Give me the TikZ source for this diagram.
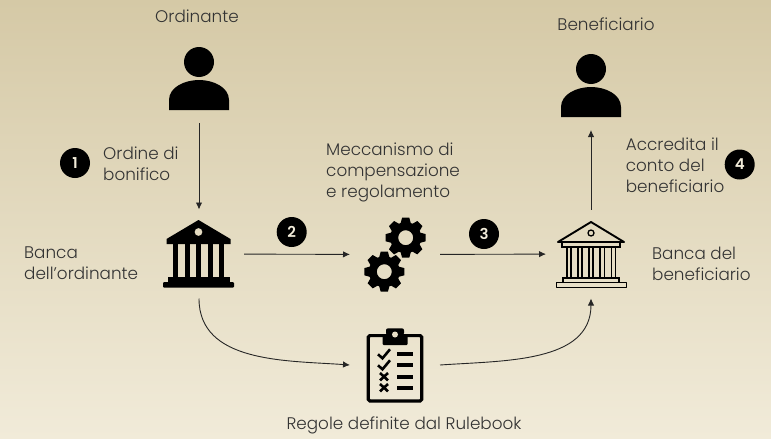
\documentclass[tikz,border=0pt]{standalone}
\usepackage{fontspec}
\setmainfont{Poppins Light}[BoldFont=Poppins SemiBold]
\usetikzlibrary{arrows.meta}
\definecolor{bgtop}{HTML}{D5C9A6}
\definecolor{bgbottom}{HTML}{F1EBD9}
\definecolor{labelcol}{HTML}{333333}
\tikzset{
	lbl/.style={align=left, anchor=west, inner sep=0pt, text=labelcol, font=\fontsize{16.8}{21}\selectfont},
	lblc/.style={lbl, align=center, anchor=center},
	num/.style={circle, fill=black, inner sep=0pt, minimum size=30pt, text=bgbottom, font=\fontsize{15}{15}\selectfont\bfseries},
	iconbox/.style={inner sep=0pt, outer sep=0pt},
	flow/.style={-{Latex[length=7pt,width=6.5pt]}, line width=0.9pt, draw=black!85},
	person/.pic={
		\fill (0, -16) circle (15pt);
		\fill (-30, 32) -- (-30, 22) .. controls (-30, 9) and (-14, 2) .. (0, 2) .. controls (14, 2) and (30, 9) .. (30, 22) -- (30, 32) -- cycle;
	},
	gear/.pic={
		\fill [even odd rule] (0, 0) circle (15.5pt) (0, 0) circle (7.5pt);
		\foreach \a in {0,45,...,315}
			\fill [rotate=\a] (-5.5, 13) -- (-3.6, 20) -- (3.6, 20) -- (5.5, 13) -- cycle;
	},
	bankfull/.pic={
		\fill [even odd rule] (0, -34) -- (32, -15) -- (32, -10) -- (-32, -10) -- (-32, -15) -- cycle (0, -22) circle (4pt);
		\foreach \x in {-25.5,-14,-2.5,9,20.5}
			\fill (\x, -10) rectangle (\x+5.2, 23);
		\fill (-31, 23) rectangle (31, 28);
		\fill [rounded corners=1pt] (-35.5, 28) rectangle (35.5, 33.5);
	},
	bankline/.pic={
		\draw [line width=1.9pt, line join=round] (0, -32) -- (33, -12) -- (-33, -12) -- cycle;
		\draw [line width=1.3pt] (0, -21) circle (3pt);
		\draw [line width=1.6pt] (-29, -12) rectangle (29, -7);
		\foreach \x in {-24.3,-13,-2.1,9.2,20.3}
			\draw [line width=1.6pt] (\x, -7) rectangle (\x+4.2, 24);
		\draw [line width=1.6pt] (-28, 24) rectangle (28, 28.5);
		\draw [line width=1.6pt, line join=round] (-34.5, 28.5) rectangle (35.5, 33.5);
	},
	rulesheet/.pic={
		\draw [line width=3.2pt, rounded corners=1.5pt] (-26.7, -32.4) rectangle (26.7, 33);
		\fill [rounded corners=1pt] (-12.5, -23) rectangle (12.5, -34);
		\fill [rounded corners=2pt] (-9, -33) rectangle (9, -39.7);
		\fill [bgtop!40!bgbottom] (0, -33.5) circle (3pt);
		\foreach \y in {-13.7,-2.7,8.7,19.7}
			\fill (2.3, \y-2) rectangle (17.7, \y+2);
		\foreach \y in {-13.7,-2.7}
			\draw [line width=2.6pt] (-17, \y) -- (-12.5, \y+4) -- (-5, \y-5);
		\foreach \y in {8.7,19.7}
			\draw [line width=2.6pt] (-15, \y-3.7) -- (-7, \y+3.7) (-15, \y+3.7) -- (-7, \y-3.7);
	}
}
\begin{document}
\begin{tikzpicture}[x=1pt,y=-1pt]
	\shade [top color=bgtop, bottom color=bgbottom] (0, 0) rectangle (771, 439);
	\useasboundingbox (0, 0) rectangle (771, 439);

	\pic at (199, 78) {person};
	\pic at (591, 85) {person};
	\pic at (198.5, 254) {bankfull};
	\pic at (591, 254) {bankline};
	\pic at (405.7, 237.7) {gear};
	\pic at (384.3, 271.7) {gear};
	\pic at (395, 368) {rulesheet};

	\node [iconbox, minimum width=60pt, minimum height=90pt] (ordinante) at (199, 78) {};
	\node [iconbox, minimum width=60pt, minimum height=90pt] (beneficiario) at (591, 85) {};
	\node [iconbox, minimum width=90pt, minimum height=89pt] (bancaord) at (199, 254) {};
	\node [iconbox, minimum width=90pt, minimum height=89pt] (bancaben) at (591, 254) {};
	\node [iconbox, minimum width=90pt, minimum height=60pt] (meccanismo) at (395, 254.5) {};
	\node [iconbox, minimum width=90pt, minimum height=75pt] (regole) at (395, 365) {};

	\node [lblc] (tordinante) at (197, 16) {Ordinante};
	\node [lblc] (tbeneficiario) at (606, 24.5) {Beneficiario};
	\node [lbl] (tordine) at (103, 163.5) {Ordine di\\bonifico};
	\node [lbl] (tbancaord) at (24, 263.5) {Banca\\dell’ordinante};
	\node [lbl] (tmeccanismo) at (326, 172.5) {Meccanismo di\\compensazione\\e regolamento};
	\node [lbl] (taccredita) at (625.7, 165) {Accredita il\\conto del\\beneficiario};
	\node [lbl] (tbancaben) at (652, 263.5) {Banca del\\beneficiario};
	\node [lblc] (tregole) at (404, 425) {Regole definite dal Rulebook};

	\node [num] (uno) at (75, 163) {1};
	\node [num] (due) at (291.7, 232) {2};
	\node [num] (tre) at (484, 234) {3};
	\node [num] (quattro) at (739.7, 164.5) {4};

	\draw [flow] (ordinante) -- (bancaord);
	\draw [flow] (bancaord) -- (meccanismo);
	\draw [flow] (meccanismo) -- (bancaben);
	\draw [flow] (bancaben) -- (beneficiario);
	\draw [flow] (bancaord.south) to [out=-90, in=176] (regole.west);
	\draw [flow] (regole.east) to [out=4, in=-90] (bancaben.south);
\end{tikzpicture}
\end{document}
